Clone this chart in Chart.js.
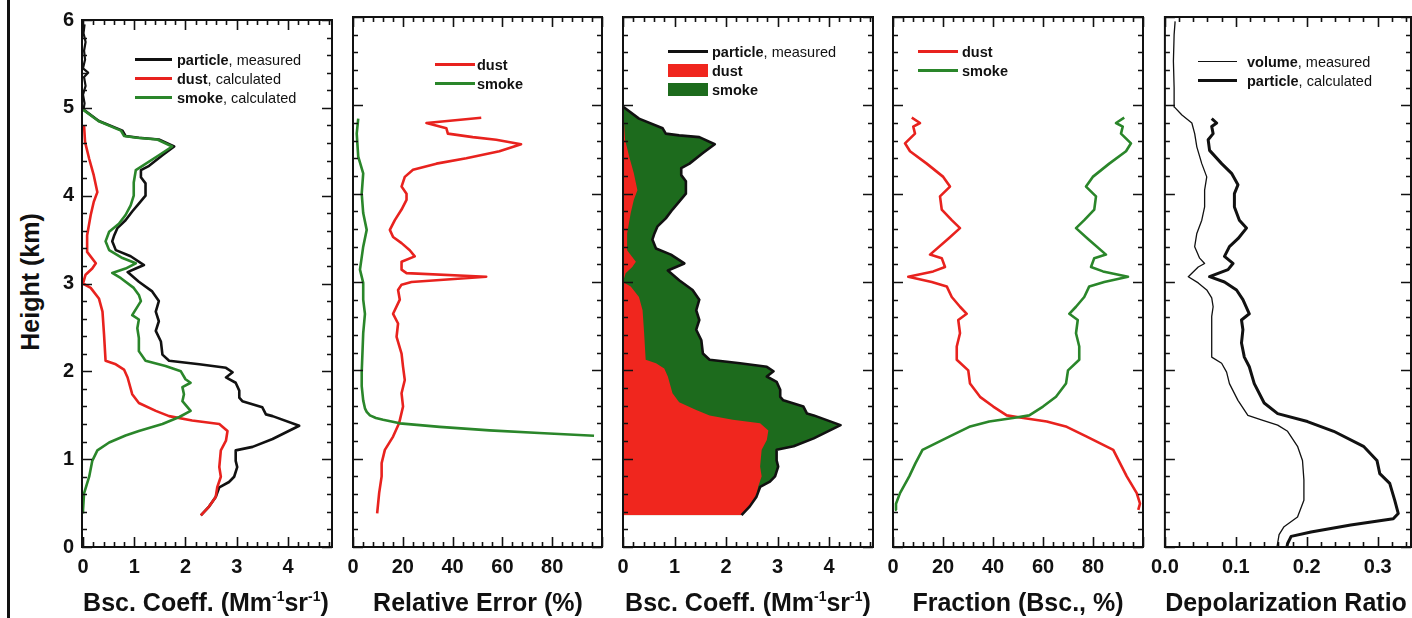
<!DOCTYPE html>
<html>
<head>
<meta charset="utf-8">
<script src="https://cdn.jsdelivr.net/npm/chart.js@4.4.1/dist/chart.umd.min.js"></script>
<style>
  html, body { margin: 0; padding: 0; background: #fff; }
  body { width: 1412px; height: 618px; position: relative; overflow: hidden;
         font-family: "Liberation Sans", Arial, sans-serif; color: #111; }
  canvas { position: absolute; top: 0; }
  .frame { position: absolute; left: 7px; top: 0; width: 3px; height: 618px; background: #111; }
  .ytitle { position: absolute; left: 30px; top: 282px; transform: translate(-50%, -50%) rotate(-90deg);
            font-weight: bold; font-size: 25px; white-space: nowrap; }
  .xtitle { position: absolute; top: 602px; transform: translate(-50%, -50%);
            font-weight: bold; font-size: 25px; white-space: nowrap; line-height: 30px; }
  .xtitle sup { font-size: 14px; vertical-align: 10px; line-height: 0; }
  .legend { position: absolute; font-size: 14.5px; }
  .legend div { white-space: nowrap; height: 19px; display: flex; align-items: center; }
  .legend .sw { display: inline-block; flex: none; }
</style>
</head>
<body>
<div class="frame"></div>
<div class="ytitle">Height (km)</div>

<canvas id="bsc" width="296" height="618" style="left:40px"></canvas>
<canvas id="err" width="273" height="618" style="left:333px"></canvas>
<canvas id="stack" width="274" height="618" style="left:603px"></canvas>
<canvas id="frac" width="274" height="618" style="left:873px"></canvas>
<canvas id="depol" width="269" height="618" style="left:1143px"></canvas>

<div class="xtitle" style="left:206px">Bsc. Coeff. (Mm<sup>-1</sup>sr<sup>-1</sup>)</div>
<div class="xtitle" style="left:478px">Relative Error (%)</div>
<div class="xtitle" style="left:748px">Bsc. Coeff. (Mm<sup>-1</sup>sr<sup>-1</sup>)</div>
<div class="xtitle" style="left:1018px">Fraction (Bsc., %)</div>
<div class="xtitle" style="left:1286px">Depolarization Ratio</div>

<div class="legend" style="left:135px; top:50px">
  <div><span class="sw" style="width:37px;height:3px;background:#111;margin-right:5px"></span><b>particle</b>, measured</div>
  <div><span class="sw" style="width:37px;height:3px;background:#e8221e;margin-right:5px"></span><b>dust</b>, calculated</div>
  <div><span class="sw" style="width:37px;height:3px;background:#2a862a;margin-right:5px"></span><b>smoke</b>, calculated</div>
</div>
<div class="legend" style="left:435px; top:55px">
  <div><span class="sw" style="width:40px;height:3px;background:#e8221e;margin-right:2px"></span><b>dust</b></div>
  <div><span class="sw" style="width:40px;height:3px;background:#2a862a;margin-right:2px"></span><b>smoke</b></div>
</div>
<div class="legend" style="left:668px; top:42px">
  <div><span class="sw" style="width:40px;height:3px;background:#111;margin-right:4px"></span><b>particle</b>, measured</div>
  <div><span class="sw" style="width:40px;height:13px;background:#f0261e;margin-right:4px"></span><b>dust</b></div>
  <div><span class="sw" style="width:40px;height:13px;background:#1d6b1d;margin-right:4px"></span><b>smoke</b></div>
</div>
<div class="legend" style="left:918px; top:42px">
  <div><span class="sw" style="width:40px;height:3px;background:#e8221e;margin-right:4px"></span><b>dust</b></div>
  <div><span class="sw" style="width:40px;height:3px;background:#2a862a;margin-right:4px"></span><b>smoke</b></div>
</div>
<div class="legend" style="left:1198px; top:52px">
  <div><span class="sw" style="width:39px;height:1.4px;background:#111;margin-right:10px"></span><b>volume</b>, measured</div>
  <div><span class="sw" style="width:39px;height:3px;background:#111;margin-right:10px"></span><b>particle</b>, calculated</div>
</div>

<script>
// Height grid is in km, listed bottom-up for each profile.
const heightTicks = [0, 1, 2, 3, 4, 5, 6];

// Backscatter coefficient (Mm-1 sr-1)
const particleH = [0.36,0.46,0.57,0.68,0.74,0.80,0.91,0.98,1.10,1.14,1.23,1.38,1.49,1.51,1.59,1.66,1.70,1.78,1.87,1.93,1.99,2.04,2.08,2.12,2.19,2.34,2.46,2.57,2.68,2.80,2.91,3.02,3.13,3.17,3.21,3.31,3.38,3.48,3.55,3.63,3.72,3.82,3.91,4.00,4.14,4.21,4.29,4.34,4.46,4.56,4.64,4.66,4.68,4.74,4.85,4.98];
const particleBsc = [2.30,2.46,2.59,2.66,2.85,2.95,3.01,2.98,2.98,3.31,3.70,4.22,3.70,3.57,3.50,3.11,3.05,3.05,2.98,2.79,2.92,2.79,2.27,1.68,1.55,1.52,1.42,1.48,1.42,1.48,1.35,1.09,0.87,1.03,1.19,0.93,0.64,0.57,0.61,0.67,0.83,0.96,1.09,1.22,1.22,1.13,1.13,1.29,1.55,1.78,1.48,1.09,0.83,0.77,0.31,0.01];
// noise-level signal above the layer top
const particleTopH = [4.98,5.05,5.15,5.25,5.35,5.40,5.45,5.55,5.65,5.75,5.85,5.95];
const particleTopBsc = [0.01,0.03,0.00,0.05,0.02,0.10,0.00,0.04,0.02,0.05,0.01,0.03];

const dustH = [0.36,0.46,0.57,0.68,0.80,0.91,1.10,1.21,1.32,1.40,1.44,1.49,1.55,1.64,1.74,1.93,2.02,2.08,2.12,2.42,2.68,2.83,2.95,3.00,3.10,3.17,3.23,3.36,3.55,3.78,3.93,4.04,4.23,4.42,4.61,4.80];
const dustBsc = [2.30,2.46,2.59,2.62,2.69,2.66,2.69,2.79,2.82,2.66,2.13,1.68,1.42,1.09,0.96,0.87,0.80,0.64,0.44,0.41,0.38,0.31,0.15,0.00,0.05,0.18,0.25,0.08,0.08,0.15,0.21,0.28,0.21,0.12,0.04,0.02];

const smokeH = [0.38,0.42,0.61,0.80,0.98,1.10,1.19,1.27,1.32,1.40,1.48,1.55,1.66,1.74,1.82,1.87,1.91,2.00,2.06,2.12,2.23,2.38,2.49,2.59,2.64,2.80,2.87,2.95,3.06,3.12,3.17,3.23,3.29,3.38,3.48,3.59,3.68,3.78,3.89,4.00,4.15,4.29,4.34,4.46,4.56,4.64,4.66,4.68,4.74,4.85,4.98];
const smokeBsc = [0.00,0.00,0.02,0.12,0.18,0.28,0.51,0.83,1.09,1.55,1.88,2.10,1.94,1.97,1.94,2.10,2.00,1.91,1.61,1.22,1.09,1.09,1.06,1.09,0.96,1.13,1.09,0.99,0.74,0.57,0.83,1.03,0.77,0.51,0.44,0.51,0.70,0.83,0.93,0.99,0.99,1.03,1.16,1.48,1.74,1.45,1.05,0.80,0.74,0.30,0.00];

// Relative error (%)
const dustErrH = [0.38,0.61,0.80,0.95,1.10,1.25,1.40,1.59,1.74,1.89,2.04,2.19,2.38,2.53,2.64,2.80,2.91,2.97,3.00,3.06,3.10,3.14,3.23,3.29,3.36,3.44,3.51,3.59,3.70,3.82,3.93,4.00,4.08,4.19,4.27,4.34,4.40,4.48,4.56,4.61,4.64,4.68,4.74,4.80,4.86];
const dustErr = [9.7,10.5,11.5,11.5,12.8,16.1,18.5,20.1,19.5,20.8,20.1,19.5,17.5,18.1,16.1,18.8,18.1,19.5,23.5,53.5,21.5,19.5,19.5,24.8,22.8,19.5,16.1,14.8,16.8,19.5,21.5,21.5,19.5,20.8,24.1,33.5,45.5,58.8,67.5,57.5,48.1,38.1,37.5,29.5,51.5];
const smokeErrH = [1.26,1.29,1.32,1.36,1.40,1.44,1.46,1.49,1.53,1.57,1.66,1.82,1.98,2.42,2.64,2.80,2.99,3.14,3.40,3.59,3.78,4.00,4.23,4.42,4.68,4.85];
const smokeErr = [96.8,74.8,54.8,34.8,18.8,12.1,9.2,6.8,5.5,4.8,4.1,3.5,3.5,4.1,4.8,4.1,4.1,2.8,4.1,5.5,4.1,3.5,4.1,2.1,1.5,2.1];

// Backscatter fraction (%)
const fracH = [0.42,0.49,0.61,0.80,0.95,1.10,1.25,1.36,1.42,1.46,1.49,1.59,1.70,1.85,2.00,2.12,2.27,2.42,2.57,2.64,2.72,2.83,2.95,3.00,3.06,3.12,3.17,3.27,3.31,3.49,3.61,3.70,3.82,3.97,4.08,4.19,4.34,4.48,4.57,4.68,4.76,4.80,4.86];
const dustFrac = [98.1,98.8,97.5,93.5,90.8,88.1,77.5,69.5,61.5,52.1,45.5,40.1,34.8,30.8,30.1,25.5,25.5,26.8,26.1,29.5,26.8,23.5,21.5,15.5,6.1,16.1,20.8,19.5,14.8,22.1,26.8,23.5,19.5,18.8,22.8,20.1,13.5,6.8,4.8,8.8,8.1,10.8,7.5];
const smokeFrac = [1.5,1.2,2.8,6.5,9.0,11.8,22.5,30.5,38.5,48.0,54.5,60.0,65.2,69.2,70.0,74.5,74.5,73.2,73.9,70.5,73.2,76.5,78.5,84.5,94.0,84.0,79.2,80.5,85.2,77.9,73.2,76.5,80.5,81.2,77.2,79.9,86.5,93.2,95.2,91.2,91.9,89.2,92.5];

// Depolarization ratio
const volumeH = [0.00,0.14,0.23,0.34,0.53,0.76,0.98,1.14,1.31,1.38,1.44,1.49,1.66,1.85,1.98,2.08,2.15,2.38,2.61,2.72,2.82,2.91,2.99,3.06,3.17,3.21,3.27,3.40,3.55,3.70,3.85,4.04,4.19,4.34,4.53,4.68,4.80,4.89,4.98,5.20,5.50,5.80,5.95];
const volumeDepol = [0.158,0.161,0.168,0.187,0.196,0.196,0.194,0.187,0.173,0.159,0.136,0.117,0.103,0.091,0.087,0.080,0.066,0.066,0.066,0.068,0.066,0.059,0.047,0.033,0.047,0.056,0.049,0.042,0.045,0.052,0.056,0.056,0.059,0.052,0.045,0.042,0.038,0.024,0.0135,0.013,0.012,0.013,0.0144];
const particleDepolH = [0.00,0.04,0.12,0.17,0.25,0.32,0.38,0.53,0.72,0.83,0.98,1.14,1.31,1.42,1.51,1.63,1.85,2.04,2.15,2.31,2.46,2.57,2.64,2.80,2.91,3.00,3.06,3.14,3.21,3.29,3.40,3.49,3.61,3.70,3.85,4.00,4.10,4.23,4.34,4.49,4.61,4.68,4.76,4.80,4.85];
const particleDepol = [0.172,0.173,0.178,0.206,0.262,0.322,0.329,0.324,0.317,0.303,0.299,0.280,0.238,0.201,0.159,0.140,0.126,0.119,0.112,0.108,0.110,0.108,0.119,0.110,0.101,0.084,0.063,0.089,0.096,0.084,0.091,0.103,0.115,0.105,0.098,0.098,0.103,0.094,0.080,0.063,0.061,0.068,0.066,0.073,0.066];

const bscTicks = [0, 1, 2, 3, 4];
const pctTicks = [0, 20, 40, 60, 80];
const depolTicks = [0, 0.1, 0.2, 0.3];

const RED = '#e8221e', GREEN = '#2a862a', BLACK = '#111';
const tickFont = { family: '"Liberation Sans", Arial, sans-serif', size: 20, weight: 'bold' };

const pts = (h, v) => h.map((y, i) => ({ x: v[i], y }));

const profile = (h, v, color, width) => ({
  data: pts(h, v), borderColor: color, borderWidth: width, fill: false
});

// frame and inward tick marks on all four sides
const frameTicks = {
  id: 'frameTicks',
  afterDraw(chart, args, opts) {
    const { ctx, chartArea: a, scales: { x, y } } = chart;
    ctx.save();
    ctx.strokeStyle = BLACK;
    ctx.lineWidth = 1.6;
    ctx.beginPath();
    const marks = (scale, step, len) => {
      const n0 = Math.ceil(scale.min / step - 1e-6), n1 = Math.floor(scale.max / step + 1e-6);
      for (let n = n0; n <= n1; n++) {
        const p = Math.round(scale.getPixelForValue(n * step)) + 0.5;
        if (scale.isHorizontal()) {
          ctx.moveTo(p, a.bottom); ctx.lineTo(p, a.bottom - len);
          ctx.moveTo(p, a.top); ctx.lineTo(p, a.top + len);
        } else {
          ctx.moveTo(a.left, p); ctx.lineTo(a.left + len, p);
          ctx.moveTo(a.right, p); ctx.lineTo(a.right - len, p);
        }
      }
    };
    marks(x, opts.xMinor, 5);
    marks(x, opts.xMajor, 10);
    marks(y, 0.2, 5);
    marks(y, 1, 10);
    ctx.stroke();
    ctx.lineWidth = 2;
    ctx.strokeRect(a.left, a.top, a.width, a.height);
    ctx.restore();
  }
};

function makePanel(id, o) {
  return new Chart(document.getElementById(id), {
    type: 'line',
    data: { datasets: o.datasets },
    plugins: [frameTicks],
    options: {
      indexAxis: 'y',
      responsive: false,
      animation: false,
      devicePixelRatio: 1,
      layout: { autoPadding: false, padding: { top: 17, right: o.padRight, left: 0, bottom: 0 } },
      elements: { point: { radius: 0 }, line: { tension: 0, borderJoinStyle: 'round' } },
      plugins: {
        legend: { display: false },
        tooltip: { enabled: false },
        frameTicks: { xMajor: o.xMajor, xMinor: o.xMinor }
      },
      scales: {
        x: {
          type: 'linear', position: 'bottom', min: o.xMin, max: o.xMax,
          afterFit: s => { s.height = 71; },
          afterBuildTicks: s => { s.ticks = o.xTicks.map(v => ({ value: v })); },
          grid: { display: false, drawTicks: false },
          border: { display: false },
          ticks: { font: tickFont, color: BLACK, padding: 8, maxRotation: 0, autoSkip: false,
                   callback: o.format || (v => v) }
        },
        y: {
          type: 'linear', min: 0, max: 6,
          afterFit: s => { s.width = o.yWidth; },
          afterBuildTicks: s => { s.ticks = heightTicks.map(v => ({ value: v })); },
          grid: { display: false, drawTicks: false },
          border: { display: false },
          ticks: { display: o.showY, font: tickFont, color: BLACK, padding: 8, autoSkip: false }
        }
      }
    }
  });
}

makePanel('bsc', {
  xMin: -0.02, xMax: 4.86, xTicks: bscTicks, xMajor: 1, xMinor: 0.2,
  yWidth: 42, padRight: 4, showY: true,
  datasets: [
    profile(smokeH, smokeBsc, GREEN, 2.6),
    profile(dustH, dustBsc, RED, 2.6),
    profile(particleH, particleBsc, BLACK, 2.6),
    profile(particleTopH, particleTopBsc, BLACK, 2.2)
  ]
});

makePanel('err', {
  xMin: 0, xMax: 100, xTicks: pctTicks, xMajor: 20, xMinor: 4,
  yWidth: 20, padRight: 4, showY: false,
  datasets: [
    profile(smokeErrH, smokeErr, GREEN, 2.6),
    profile(dustErrH, dustErr, RED, 2.6)
  ]
});

// dust stacked under smoke: smoke layer fills from 0 to the measured total,
// dust is painted over it, measured profile outlines the stack
makePanel('stack', {
  xMin: 0, xMax: 4.85, xTicks: bscTicks, xMajor: 1, xMinor: 0.2,
  yWidth: 20, padRight: 4, showY: false,
  datasets: [
    profile(particleH, particleBsc, BLACK, 2.6),
    { data: pts(dustH, dustBsc), borderWidth: 0, backgroundColor: '#f0261e', fill: 'origin' },
    { data: pts(particleH, particleBsc), borderWidth: 0, backgroundColor: '#1d6b1d', fill: 'origin' }
  ]
});

makePanel('frac', {
  xMin: 0, xMax: 100, xTicks: pctTicks, xMajor: 20, xMinor: 4,
  yWidth: 20, padRight: 4, showY: false,
  datasets: [
    profile(fracH, smokeFrac, GREEN, 2.6),
    profile(fracH, dustFrac, RED, 2.6)
  ]
});

makePanel('depol', {
  xMin: 0, xMax: 0.347, xTicks: depolTicks, xMajor: 0.1, xMinor: 0.02,
  yWidth: 20, padRight: 1, showY: false,
  format: v => v.toFixed(1),
  datasets: [
    profile(particleDepolH, particleDepol, BLACK, 3),
    profile(volumeH, volumeDepol, BLACK, 1.3)
  ]
});
</script>
</body>
</html>
